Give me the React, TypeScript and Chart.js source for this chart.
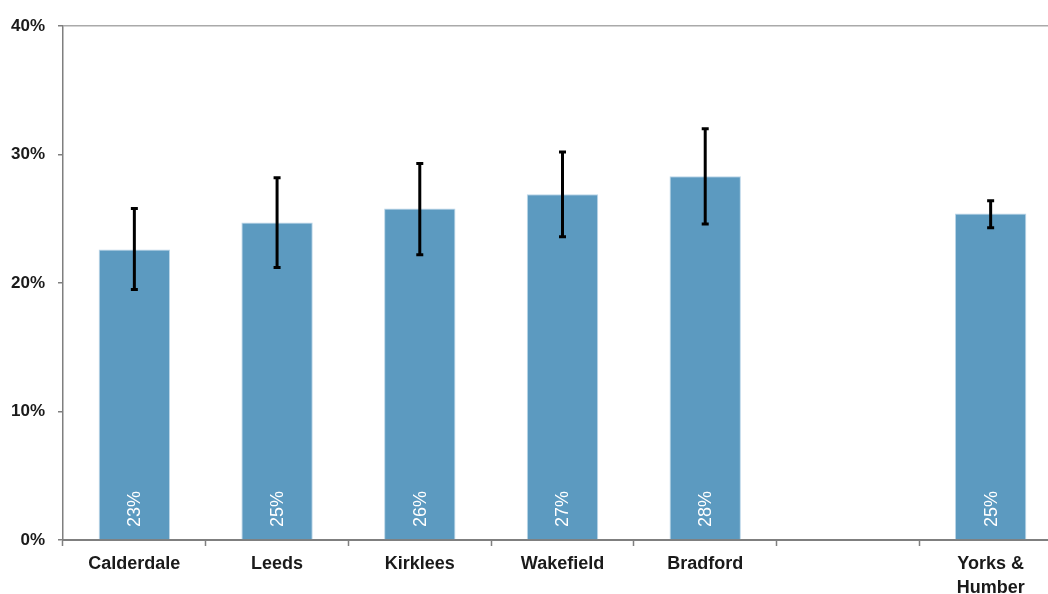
import React, { useEffect, useRef } from "react";
import { Chart, registerables } from "chart.js";

Chart.register(...registerables);

const categories: (string | string[])[] = ["Calderdale", "Leeds", "Kirklees", "Wakefield", "Bradford", "", ["Yorks &", "Humber"]];
const values: (number | null)[] = [22.6, 24.7, 25.8, 26.9, 28.3, null, 25.4];
const errLow: (number | null)[] = [19.5, 21.2, 22.2, 23.6, 24.6, null, 24.3];
const errHigh: (number | null)[] = [25.8, 28.2, 29.3, 30.2, 32.0, null, 26.4];
const yTicks = [0, 10, 20, 30, 40];

const BAR = "rgb(92,154,192)";
const AXIS = "#7f7f7f";
const FONT = "'Liberation Sans', Arial, sans-serif";

const extrasPlugin = {
  id: "extras",
  afterDatasetsDraw(chart: any) {
    const ctx = chart.ctx;
    const meta = chart.getDatasetMeta(0);
    const y = chart.scales.y;
    ctx.save();
    values.forEach((v, i) => {
      if (v == null) return;
      const el = meta.data[i];
      const x = el.x;
      // value label
      ctx.save();
      ctx.translate(x, y.getPixelForValue(0) - 13);
      ctx.rotate(-Math.PI / 2);
      ctx.fillStyle = "#ffffff";
      ctx.font = `18px ${FONT}`;
      ctx.textAlign = "left";
      ctx.textBaseline = "middle";
      ctx.fillText(`${Math.round(v)}%`, 0, 1);
      ctx.restore();
      // error bar
      const lo = errLow[i];
      const hi = errHigh[i];
      if (lo == null || hi == null) return;
      const yl = y.getPixelForValue(lo);
      const yh = y.getPixelForValue(hi);
      ctx.strokeStyle = "#000";
      ctx.lineWidth = 3;
      ctx.beginPath();
      ctx.moveTo(x, yh);
      ctx.lineTo(x, yl);
      ctx.stroke();
      ctx.lineWidth = 3;
      ctx.beginPath();
      ctx.moveTo(x - 3.5, yh);
      ctx.lineTo(x + 3.5, yh);
      ctx.moveTo(x - 3.5, yl);
      ctx.lineTo(x + 3.5, yl);
      ctx.stroke();
    });
    ctx.restore();
  },
};

export default function App() {
  const ref = useRef<HTMLCanvasElement | null>(null);
  useEffect(() => {
    if (!ref.current) return;
    const chart = new Chart(ref.current, {
      type: "bar",
      data: {
        labels: categories as any,
        datasets: [
          {
            data: values as any,
            backgroundColor: BAR,
            borderColor: "rgba(180,210,230,0.9)",
            borderWidth: 1,
            categoryPercentage: 1,
            barPercentage: 0.5,
          },
        ],
      },
      options: {
        responsive: false,
        animation: false,
        layout: { padding: { top: 26, right: 2, left: 0, bottom: 0 } },
        plugins: { legend: { display: false }, tooltip: { enabled: false } },
        scales: {
          x: {
            offset: true,
            grid: {
              offset: true,
              drawOnChartArea: false,
              tickLength: 6,
              tickColor: AXIS,
              tickWidth: 1.5,
            },
            border: { color: AXIS, width: 2 },
            ticks: {
              color: "#1a1a1a",
              font: { family: FONT, size: 18, weight: "bold", lineHeight: 1.33 },
              padding: 6,
              maxRotation: 0,
              autoSkip: false,
            },
            afterFit(scale: any) {
              scale.height = 54;
            },
          },
          y: {
            min: 0,
            max: 40,
            afterBuildTicks(scale: any) {
              scale.ticks = yTicks.map((v) => ({ value: v }));
            },
            grid: {
              color: (c: any) => (c.tick && c.tick.value === 40 ? "#aaaaaa" : "rgba(0,0,0,0)"),
              tickColor: AXIS,
              tickLength: 5,
              lineWidth: 1.5,
            },
            border: { color: AXIS, width: 1.5 },
            ticks: {
              color: "#1a1a1a",
              font: { family: FONT, size: 17, weight: "bold" },
              padding: 13,
              callback: (v: any) => `${v}%`,
            },
            afterFit(scale: any) {
              scale.width = 63;
            },
          },
        },
      },
      plugins: [extrasPlugin],
    });
    return () => chart.destroy();
  }, []);
  return (
    <div
      style={{
        position: "fixed",
        left: 0,
        top: 0,
        width: 1048,
        height: 594,
        overflow: "hidden",
        background: "#fff",
      }}
    >
      <canvas ref={ref} width={1064} height={594} style={{ display: "block" }} />
    </div>
  );
}
